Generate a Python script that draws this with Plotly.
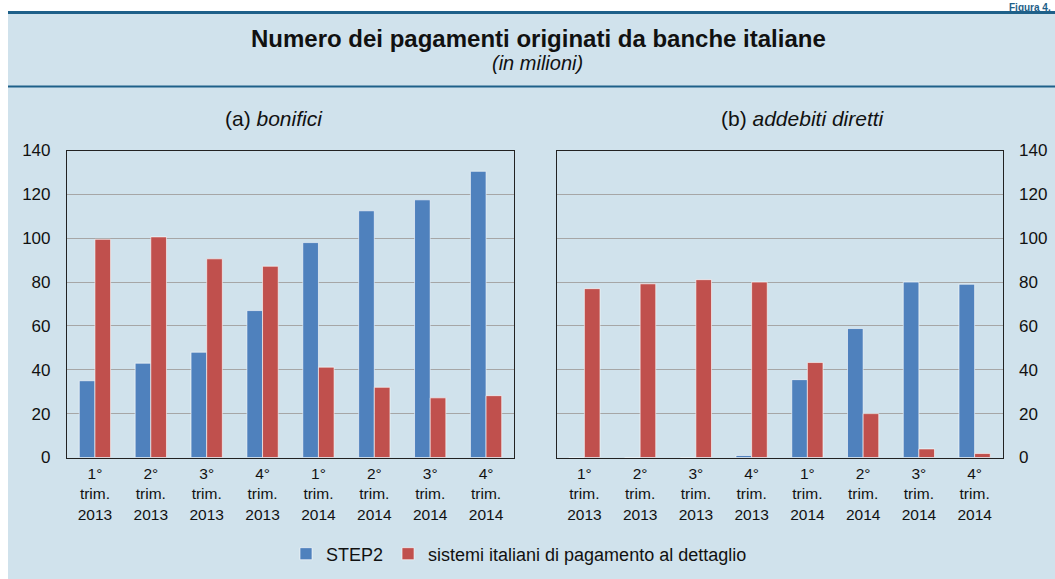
import plotly.graph_objects as go

categories = ["1°<br>trim.<br>2013", "2°<br>trim.<br>2013", "3°<br>trim.<br>2013", "4°<br>trim.<br>2013",
              "1°<br>trim.<br>2014", "2°<br>trim.<br>2014", "3°<br>trim.<br>2014", "4°<br>trim.<br>2014"]

bonifici_step2 = [35, 43, 48, 67, 98, 112.5, 117.5, 130.5]
bonifici_ita = [99.5, 100.6, 90.6, 87.2, 41.2, 32.0, 27.2, 28.2]

addebiti_step2 = [0, 0, 0, 0.9, 35.5, 58.8, 80.0, 79.0]
addebiti_ita = [77.0, 79.2, 81.1, 80.0, 43.3, 20.0, 3.9, 1.8]

y_ticks = [0, 20, 40, 60, 80, 100, 120, 140]

BLUE = "#4F81BD"
RED = "#C0504D"
PANEL = "#D0E2EC"
LINE = "#1E6089"
FONT = "Liberation Sans, Arial, sans-serif"

W, H = 1055, 579


def px(x):
    return x / W


def py(y):
    return 1 - y / H


fig = go.Figure()

for i, (s, r) in enumerate([(bonifici_step2, bonifici_ita), (addebiti_step2, addebiti_ita)]):
    xa = "x" if i == 0 else "x2"
    ya = "y" if i == 0 else "y2"
    fig.add_trace(go.Bar(x=categories, y=s, name="STEP2",
                         marker=dict(color=BLUE, line=dict(color="rgba(255,255,255,0.6)", width=1)),
                         xaxis=xa, yaxis=ya, showlegend=(i == 0)))
    fig.add_trace(go.Bar(x=categories, y=r, name="sistemi italiani di pagamento al dettaglio",
                         marker=dict(color=RED, line=dict(color="rgba(255,255,255,0.6)", width=1)),
                         xaxis=xa, yaxis=ya, showlegend=(i == 0)))

ydom = [py(457.5), py(150.5)]
common_x = dict(showgrid=False, showline=True, linecolor="#222", linewidth=1.2, mirror=True,
                ticks="", tickfont=dict(size=15.5, color="#111", family=FONT), automargin=False,
                fixedrange=True, ticklabelstandoff=2)
common_y = dict(range=[0, 140], tickvals=y_ticks, showgrid=True, gridcolor="#A6A6A6", gridwidth=1,
                showline=True, linecolor="#222", linewidth=1.2, mirror=True, ticks="", zeroline=False,
                tickfont=dict(size=17, color="#111", family=FONT), automargin=False, ticklabelstandoff=12,
                fixedrange=True)

fig.update_layout(
    width=W, height=H,
    margin=dict(l=0, r=0, t=0, b=0),
    template="none",
    paper_bgcolor="white",
    plot_bgcolor="white",
    barmode="group",
    bargap=0.44,
    bargroupgap=0,
    font=dict(family=FONT, color="#111"),
    xaxis=dict(domain=[px(67), px(514)], anchor="y", **common_x),
    yaxis=dict(domain=ydom, anchor="x", side="left", **common_y),
    xaxis2=dict(domain=[px(556.5), px(1002.5)], anchor="y2", **common_x),
    yaxis2=dict(domain=ydom, anchor="x2", side="right", **common_y),
    legend=dict(orientation="h", x=px(519), xanchor="center", y=py(554), yanchor="middle",
                font=dict(size=18, color="#111", family=FONT), bgcolor="rgba(0,0,0,0)",
                tracegroupgap=0),
    shapes=[
        dict(type="rect", xref="paper", yref="paper", x0=px(8), x1=px(W + 5), y0=py(H + 5), y1=py(13),
             fillcolor=PANEL, line=dict(width=0), layer="below"),
        dict(type="line", xref="paper", yref="paper", x0=px(8), x1=px(W + 5), y0=py(12.5), y1=py(12.5),
             line=dict(color=LINE, width=3)),
        dict(type="line", xref="paper", yref="paper", x0=px(8), x1=px(W + 5), y0=py(86.5), y1=py(86.5),
             line=dict(color=LINE, width=2)),
    ],
    annotations=[
        dict(text="<b>Figura 4.</b>", xref="paper", yref="paper", x=px(1053), y=py(0), xanchor="right",
             yanchor="top", showarrow=False, font=dict(size=10, color=LINE, family=FONT)),
        dict(text="<b>Numero dei pagamenti originati da banche italiane</b>", xref="paper", yref="paper",
             x=px(539), y=py(38), xanchor="center", yanchor="middle", showarrow=False,
             font=dict(size=24, color="#111", family=FONT)),
        dict(text="<i>(in milioni)</i>", xref="paper", yref="paper", x=px(537), y=py(63), xanchor="center",
             yanchor="middle", showarrow=False, font=dict(size=20, color="#111", family=FONT)),
        dict(text="(a) <i>bonifici</i>", xref="paper", yref="paper", x=px(274), y=py(118), xanchor="center",
             yanchor="middle", showarrow=False, font=dict(size=21, color="#111", family=FONT)),
        dict(text="(b) <i>addebiti diretti</i>", xref="paper", yref="paper", x=px(803), y=py(118),
             xanchor="center", yanchor="middle", showarrow=False, font=dict(size=21, color="#111", family=FONT)),
    ],
)

fig.write_html("out.html", config={"displayModeBar": False, "staticPlot": False},
               post_script="document.body.style.margin='0';")
